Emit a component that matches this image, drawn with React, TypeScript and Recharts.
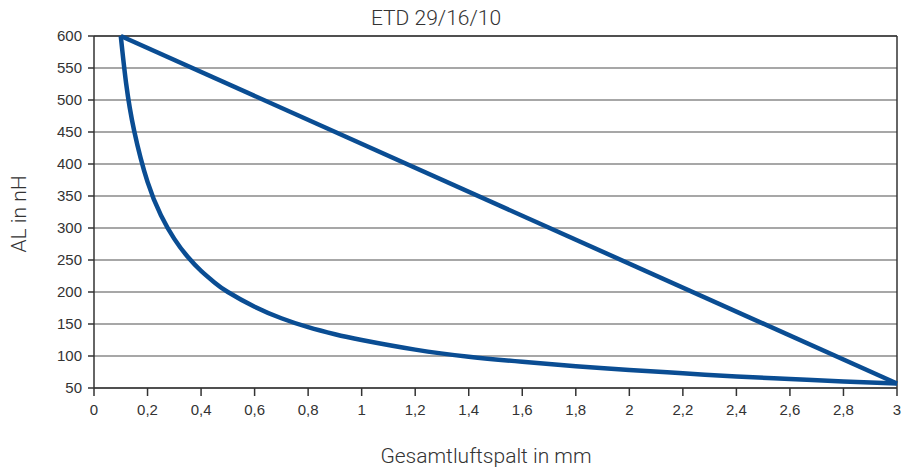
import { Line, LineChart, XAxis, YAxis, CartesianGrid, ReferenceLine } from "recharts"

const gapCurve = [0.1, 0.12, 0.15, 0.2, 0.25, 0.3, 0.35, 0.4, 0.45, 0.5, 0.6, 0.7, 0.8, 0.9, 1.0, 1.2, 1.4, 1.6, 1.8, 2.0, 2.2, 2.4, 2.6, 2.8, 3.0]
const alCurve = [600, 526, 452, 372, 320, 283, 255, 233, 215, 200, 177, 159, 145, 134, 125, 110, 99, 91, 84, 78, 73, 68, 64, 60, 57]

const gapLine = [0.1, 3.0]
const alLine = [600, 57]

const xTicks = [0, 0.2, 0.4, 0.6, 0.8, 1, 1.2, 1.4, 1.6, 1.8, 2, 2.2, 2.4, 2.6, 2.8, 3]
const yTicks = [50, 100, 150, 200, 250, 300, 350, 400, 450, 500, 550, 600]

const curveData = gapCurve.map((x, i) => ({ x, al: alCurve[i] }))
const lineData = gapLine.map((x, i) => ({ x, al: alLine[i] }))

const blue = "#0a4d93"
const tickStyle = { fontSize: 15, fill: "#333", fontFamily: "Liberation Sans, Arial, sans-serif" }
const labelFont = "Roboto, sans-serif"

export default function App() {
  return (
    <div style={{ position: "absolute", left: 0, top: 0, width: 913, height: 469, background: "#fff" }}>
      <LineChart width={913} height={469} margin={{ top: 36, right: 16, left: 0, bottom: 0 }}>
        <text x={436} y={25} textAnchor="middle" fontSize={21} fill="#333" fontFamily={labelFont} fontWeight={300}>
          ETD 29/16/10
        </text>
        <text x={486} y={463} textAnchor="middle" fontSize={21} fill="#333" fontFamily={labelFont} fontWeight={300}>
          Gesamtluftspalt in mm
        </text>
        <text x={0} y={0} transform="translate(26, 214) rotate(-90)" textAnchor="middle" fontSize={21} fill="#333" fontFamily={labelFont} fontWeight={300}>
          AL in nH
        </text>
        <CartesianGrid vertical={false} stroke="#8a8a8a" strokeWidth={1.5} />
        <XAxis
          type="number"
          dataKey="x"
          domain={[0, 3]}
          ticks={xTicks}
          tickFormatter={(v) => String(v).replace(".", ",")}
          tick={tickStyle}
          tickSize={8}
          tickMargin={8}
          height={81}
          stroke="#333"
          strokeWidth={1.5}
        />
        <YAxis
          type="number"
          domain={[50, 600]}
          ticks={yTicks}
          tick={tickStyle}
          tickSize={6}
          tickMargin={6}
          width={94}
          stroke="#333"
          strokeWidth={1.5}
        />
        <ReferenceLine y={600} stroke="#333" strokeWidth={1.5} />
        <ReferenceLine x={3} stroke="#333" strokeWidth={1.5} />
        <Line data={curveData} dataKey="al" type="natural" stroke={blue} strokeWidth={4.5} dot={false} isAnimationActive={false} />
        <Line data={lineData} dataKey="al" type="linear" stroke={blue} strokeWidth={4.5} dot={false} isAnimationActive={false} />
      </LineChart>
    </div>
  )
}
